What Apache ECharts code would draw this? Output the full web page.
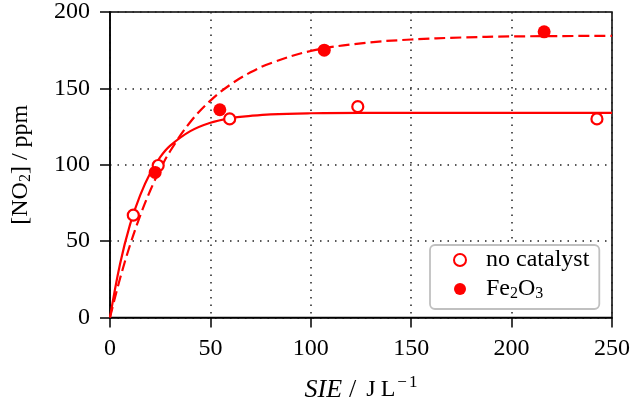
<!DOCTYPE html>
<html>
<head>
<meta charset="utf-8">
<script src="https://cdn.jsdelivr.net/npm/echarts@6/dist/echarts.min.js"></script>
<style>html,body{margin:0;padding:0;background:#fff;}#c{width:633px;height:408px;}</style>
</head>
<body>
<div id="c"></div>
<script>
// Measured data
const noCatalystX = [11.6, 24.0, 59.6, 123.4, 242.5];
const noCatalystY = [67, 99.5, 130, 138, 130];
const fe2o3X = [22.5, 54.7, 106.7, 216.2];
const fe2o3Y = [95, 136, 175, 187];
// Fitted curves
const fitX = [0, 5, 10, 15, 20, 25, 30, 40, 50, 60, 70, 80, 100, 125, 150, 175, 200, 250];
const fitNoCatalystY = [0, 35, 61, 80, 94.5, 105, 112.5, 122, 127.5, 130.5, 132, 133, 133.7, 134, 134, 134, 134, 134];
const fitFe2o3Y = [0, 25.5, 47.5, 66.5, 83, 97, 109, 128, 142, 152.5, 160.5, 166.5, 174.5, 179.5, 182, 183.3, 184, 184.4];
const xTicks = [0, 50, 100, 150, 200, 250];
const yTicks = [0, 50, 100, 150, 200];

const zip = (a, b) => a.map((v, i) => [v, b[i]]);
const FONT = 'Liberation Serif';
const RED = '#ff0000';

const chart = echarts.init(document.getElementById('c'), null, {renderer: 'canvas'});
const gridLine = {show: true, lineStyle: {color: '#222', width: 1.5, type: [1.5, 6]}};
chart.setOption({
  animation: false,
  backgroundColor: '#fff',
  grid: {left: 110, right: 20, top: 12, bottom: 89, show: true, borderColor: '#000', borderWidth: 1.5, backgroundColor: 'transparent'},
  xAxis: {
    type: 'value', min: xTicks[0], max: xTicks[xTicks.length - 1], interval: 50,
    axisLine: {show: true, onZero: false, lineStyle: {color: '#000', width: 1.5}},
    axisTick: {show: true, length: 10, lineStyle: {color: '#000', width: 1.5}},
    axisLabel: {margin: 19, color: '#000', fontFamily: FONT, fontSize: 24},
    splitLine: gridLine,
    name: '{i|SIE}{s|/}{j|J}{l|L}{m|−}{sup|1}',
    nameLocation: 'middle', nameGap: 57,
    nameTextStyle: {
      color: '#000', fontFamily: FONT, fontSize: 24,
      rich: {
        i: {fontFamily: FONT, fontSize: 26, fontStyle: 'italic', color: '#000', padding: [0, 3, 0, 0]},
        s: {fontFamily: FONT, fontSize: 26, color: '#000', padding: [0, 10, 0, 4]},
        j: {fontFamily: FONT, fontSize: 24, color: '#000', padding: [0, 5, 0, 0]},
        l: {fontFamily: FONT, fontSize: 24, color: '#000', padding: [0, 1, 0, 0]},
        m: {fontFamily: FONT, fontSize: 17, color: '#000', padding: [0, 2, 14, 1]},
        sup: {fontFamily: FONT, fontSize: 17, color: '#000', padding: [0, 0, 14, 0]}
      }
    }
  },
  yAxis: {
    type: 'value', min: yTicks[0], max: yTicks[yTicks.length - 1], interval: 50,
    axisLine: {show: true, onZero: false, lineStyle: {color: '#000', width: 1.5}},
    axisTick: {show: true, length: 10, lineStyle: {color: '#000', width: 1.5}},
    axisLabel: {margin: 20, color: '#000', fontFamily: FONT, fontSize: 24},
    splitLine: gridLine,
    name: '[NO{sub|2}] / ppm',
    nameLocation: 'middle', nameGap: 76, nameRotate: 90,
    nameTextStyle: {
      color: '#000', fontFamily: FONT, fontSize: 24,
      rich: {
        sub: {fontFamily: FONT, fontSize: 16, color: '#000', padding: [10, 0, 0, 0]}
      }
    }
  },
  legend: {
    data: ['no catalyst', 'Fe2O3'],
    orient: 'vertical', left: 430, top: 245,
    selectedMode: false,
    itemWidth: 42, itemHeight: 12, itemGap: 4,
    padding: [3, 10, 7, 23],
    backgroundColor: '#fff', borderColor: '#c0c0c0', borderWidth: 1.8, borderRadius: 5,
    formatter: function (name) {
      if (name === 'Fe2O3') return '{a|Fe}{s|2}{a|O}{s|3}';
      return '{a|' + name + '}';
    },
    textStyle: {
      color: '#000', fontFamily: FONT, fontSize: 24,
      rich: {
        a: {fontFamily: FONT, fontSize: 24, color: '#000', lineHeight: 24},
        s: {fontFamily: FONT, fontSize: 16, color: '#000', padding: [10, 0, 0, 0], lineHeight: 24}
      }
    }
  },
  series: [
    {
      name: 'fit no catalyst', type: 'line', data: zip(fitX, fitNoCatalystY),
      smooth: 0.4, showSymbol: false, lineStyle: {color: RED, width: 2.2}, silent: true, z: 2
    },
    {
      name: 'fit Fe2O3', type: 'line', data: zip(fitX, fitFe2o3Y),
      smooth: 0.4, showSymbol: false, lineStyle: {color: RED, width: 2.2, type: [11, 5]}, silent: true, z: 2
    },
    {
      name: 'no catalyst', type: 'scatter', data: zip(noCatalystX, noCatalystY),
      symbol: 'circle', symbolSize: 11,
      itemStyle: {color: '#fff', borderColor: RED, borderWidth: 2.2, opacity: 1}, z: 3
    },
    {
      name: 'Fe2O3', type: 'scatter', data: zip(fe2o3X, fe2o3Y),
      symbol: 'circle', symbolSize: 13,
      itemStyle: {color: RED, borderColor: RED, borderWidth: 0, opacity: 1}, z: 3
    }
  ]
});
</script>
</body>
</html>
